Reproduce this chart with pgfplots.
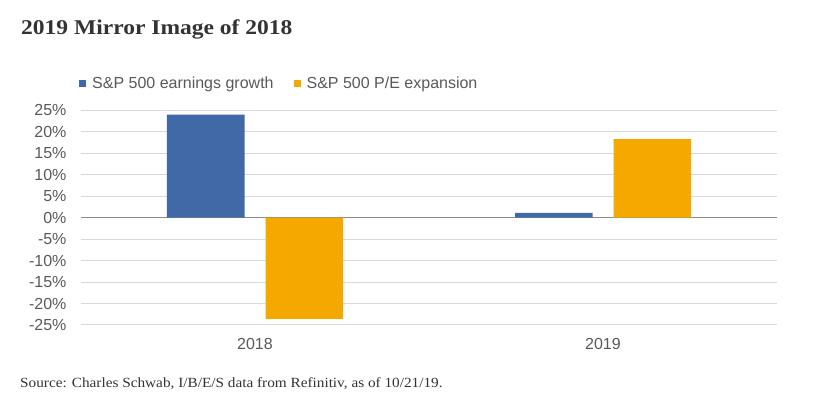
\documentclass[border=0pt]{standalone}
\usepackage{pgfplots}
\pgfplotsset{compat=1.18}
\usepackage{fontspec}
\setmainfont{Liberation Sans}
\newfontfamily\seriffont{Liberation Serif}
\definecolor{barblue}{HTML}{4169A8}
\definecolor{barorange}{HTML}{F5A800}
\definecolor{txtgray}{HTML}{595959}
\definecolor{gridgray}{HTML}{D9D9D9}
\definecolor{zerogray}{HTML}{8C8C8C}
\begin{document}
\begin{tikzpicture}
\path[use as bounding box] (0,0) rectangle (823pt,395pt);
\node[anchor=base west, inner sep=0pt, text=black!80] at (21pt,360pt) {\scalebox{1.12}[1]{\fontsize{21pt}{24pt}\selectfont\seriffont\bfseries 2019 Mirror Image of 2018}};
\node[anchor=base west, inner sep=0pt, text=black!80] at (20pt,7pt) {\scalebox{1.09}[1]{\fontsize{14pt}{16pt}\selectfont\seriffont Source: Charles Schwab, I/B/E/S data from Refinitiv, as of 10/21/19.}};
\begin{axis}[
  at={(81pt,70pt)}, anchor=south west,
  scale only axis, width=696pt, height=214.7pt,
  ybar=21pt, bar width=77.5pt,
  xmin=-0.5, xmax=1.5, ymin=-25, ymax=25,
  xtick={0,1}, xticklabels={2018,2019},
  ytick={-25,-20,...,25},
  yticklabels={-25\%,-20\%,-15\%,-10\%,-5\%,0\%,5\%,10\%,15\%,20\%,25\%},
  major tick length=0pt,
  axis line style={draw=none},
  ymajorgrids, grid style={gridgray, line width=1pt},
  extra y ticks={0}, extra y tick labels={},
  extra y tick style={grid style={zerogray, line width=1.2pt}},
  tick label style={font=\fontsize{16pt}{19pt}\selectfont, text=txtgray},
  yticklabel style={xshift=-11pt},
  xticklabel style={yshift=-10pt},
  legend style={draw=none, at={(0,1)}, anchor=south west, xshift=-5pt, yshift=16pt,
    font=\fontsize{16pt}{19pt}\selectfont, text=txtgray, fill=none,
    /tikz/every even column/.append style={column sep=18pt}},
  legend columns=2,
  legend image code/.code={\fill[#1] (0pt,-3.5pt) rectangle (7pt,3.5pt); \path (11pt,0pt);},
]
\addplot[fill=barblue, draw=none] coordinates {(0,24.0) (1,1.1)};
\addplot[fill=barorange, draw=none] coordinates {(0,-23.6) (1,18.3)};
\legend{S\&P 500 earnings growth, S\&P 500 P/E expansion}
\end{axis}
\end{tikzpicture}
\end{document}
